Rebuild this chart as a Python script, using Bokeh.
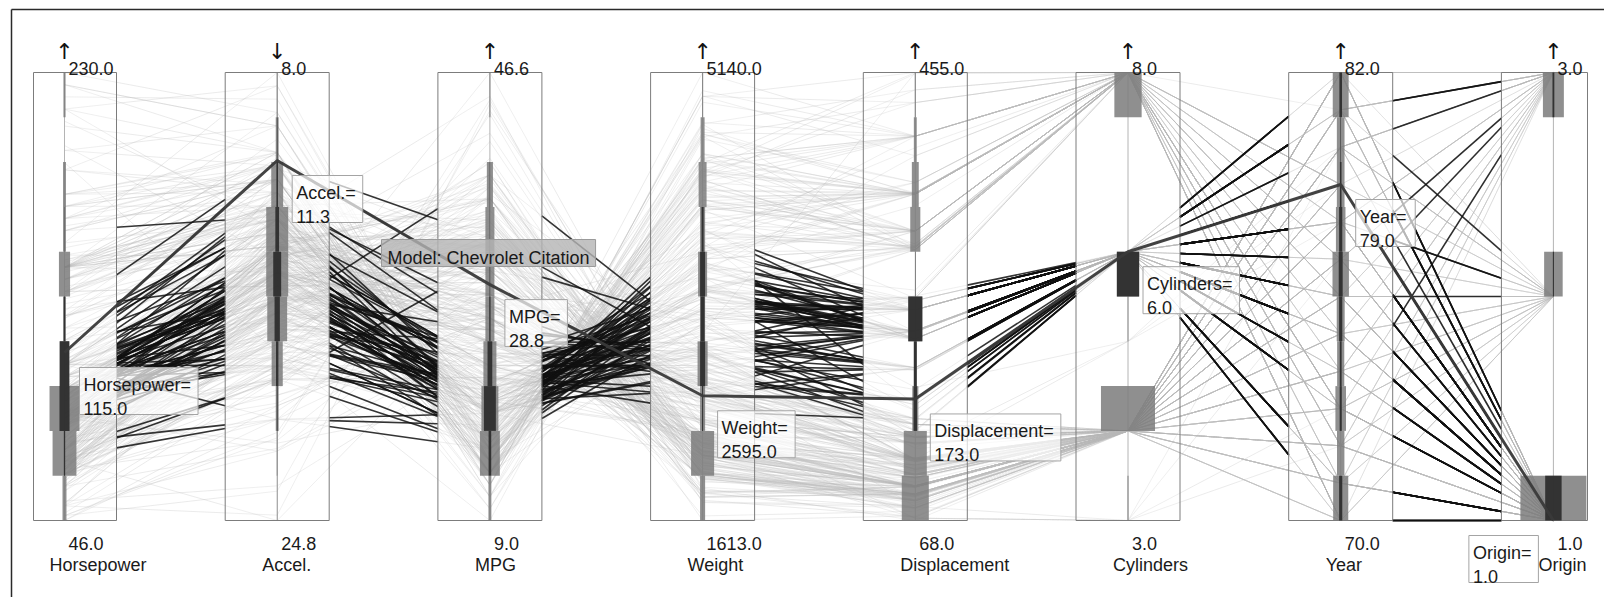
import numpy as np
from bokeh.plotting import figure
from bokeh.models import Range1d
from bokeh.embed import file_html
from bokeh.resources import INLINE
from bokeh.core.properties import value

# ---------------- data (auto-mpg cars, one line per model year) ----------------
horsepower = [
    130,165,150,150,140,198,220,215,225,190,170,160,150,225,95,95,97,85,88,46,87,90,95,113,90,215,200,210,193,
    88,90,95,100,105,100,88,100,165,175,153,150,180,170,175,110,72,100,88,86,90,70,76,65,69,60,70,
    95,80,54,90,86,165,175,150,153,150,208,155,160,190,97,150,130,140,150,112,76,87,69,86,92,97,80,88,
    175,150,145,137,150,198,150,158,150,215,225,175,105,100,100,88,95,46,150,167,170,180,100,88,72,94,90,85,107,90,145,230,49,75,91,112,150,110,122,180,
    95,100,100,67,80,65,75,100,110,105,140,150,150,140,150,83,67,78,52,61,75,75,75,97,93,67,
    95,105,72,72,170,145,150,148,110,105,110,95,110,110,129,75,83,100,78,96,71,97,97,70,90,95,88,98,115,53,
    86,81,92,79,83,140,150,120,152,100,105,81,90,52,60,70,53,100,78,110,95,71,70,75,72,102,150,88,108,120,180,145,130,150,
    68,80,58,96,70,145,110,145,130,110,105,100,98,180,170,190,149,78,88,75,89,63,83,67,78,97,110,110,
    48,66,52,70,60,110,140,139,105,95,85,88,100,90,105,85,110,120,145,165,139,140,68,95,97,75,95,105,85,97,103,125,115,133,71,68,
    115,85,88,90,110,130,129,138,135,155,142,125,150,71,65,80,80,77,125,71,90,70,70,65,69,90,115,115,90,
    76,60,70,65,90,88,90,90,78,90,75,92,75,65,105,65,48,48,67,67,67,67,62,132,100,88,72,
    84,84,92,110,84,58,64,60,67,65,62,68,63,65,65,74,75,75,100,74,80,76,116,120,110,105,88,85,
    88,88,88,85,84,90,92,74,68,68,63,70,88,75,70,67,67,67,110,85,92,112,96,84,90,86,52,84,79,82,
]
acceleration = [
    12.0,11.5,11.0,12.0,10.5,10.0,9.0,8.5,10.0,8.5,10.0,8.0,9.5,10.0,15.0,15.5,15.5,16.0,14.5,20.5,17.5,14.5,17.5,12.5,15.0,14.0,15.0,13.5,18.5,
    14.5,15.5,14.0,13.0,15.5,15.5,15.5,15.5,12.0,11.5,13.5,13.0,11.5,12.0,12.0,13.5,19.0,15.0,14.5,14.0,14.0,19.5,14.5,19.0,18.0,19.0,20.5,
    15.5,17.0,23.5,19.5,16.5,12.0,12.0,13.5,13.0,11.5,11.0,13.5,13.5,12.5,13.5,12.5,14.0,16.0,14.0,14.5,18.0,19.5,18.0,16.0,17.0,14.5,15.0,16.5,
    13.0,11.5,13.0,14.5,12.5,11.5,12.0,13.0,14.5,11.0,11.0,11.0,16.5,18.0,16.0,16.5,16.0,21.0,14.0,12.5,13.0,12.5,15.0,19.0,19.5,16.5,13.5,18.5,14.0,15.5,13.0,9.5,19.5,15.5,14.0,15.5,11.0,14.0,13.5,11.0,
    16.5,16.0,17.0,19.0,16.5,21.0,17.0,17.0,18.0,16.5,14.0,14.5,13.5,16.0,15.5,16.5,15.5,14.5,16.5,19.0,14.5,15.5,14.0,15.0,15.5,16.0,
    16.0,16.0,21.0,19.5,11.5,14.0,14.5,13.5,21.0,18.5,19.0,19.0,15.0,13.5,12.0,16.0,17.0,16.0,18.5,13.5,16.5,17.0,14.5,14.0,17.0,15.0,17.0,14.5,13.5,17.5,
    15.5,16.9,14.9,17.7,15.3,13.0,13.0,13.9,12.8,15.4,14.5,17.6,17.6,22.2,22.1,14.2,17.4,17.7,21.0,16.2,17.8,12.2,17.0,16.4,13.6,15.7,13.2,21.9,15.5,16.7,12.1,12.0,15.0,14.0,
    18.5,14.8,18.6,15.5,16.8,12.5,19.0,13.7,14.9,16.4,16.9,17.7,19.0,11.1,11.4,12.2,14.5,14.5,16.0,18.2,15.8,17.0,15.9,16.4,14.1,14.5,12.8,13.5,
    21.5,14.4,19.4,18.6,16.4,15.5,13.2,12.8,19.2,18.2,15.8,15.4,17.2,17.2,15.8,16.7,18.7,15.1,13.2,13.4,11.2,13.7,16.5,14.2,14.7,14.5,14.8,16.7,17.6,14.9,15.9,13.6,15.7,15.8,14.9,16.6,
    15.4,18.2,17.3,18.2,16.6,15.4,13.4,13.2,15.2,14.9,14.3,15.0,13.0,14.0,15.2,14.4,15.0,20.1,17.4,24.8,22.2,13.2,14.9,19.2,14.7,16.0,11.3,12.9,13.2,
    14.7,18.8,15.5,16.4,16.5,18.1,20.1,18.7,15.8,15.5,17.5,15.0,15.2,17.9,14.4,19.2,21.7,23.7,19.9,21.8,13.8,18.0,15.3,11.4,12.5,15.1,17.0,
    15.7,16.4,14.4,12.6,12.9,16.9,16.4,16.1,17.8,19.4,17.3,16.0,14.9,16.2,20.7,14.2,14.4,16.8,14.8,18.3,20.4,19.6,12.6,13.8,15.8,19.0,17.1,16.6,
    19.6,18.6,18.0,16.2,16.0,18.0,16.4,15.3,18.2,17.6,14.7,17.3,14.5,14.5,16.9,15.0,15.7,16.2,16.4,17.0,14.5,14.7,13.9,13.0,17.3,15.6,24.6,11.6,18.6,19.4,
]
mpg = [
    18,15,18,16,17,15,14,14,14,15,15,14,15,14,24,22,18,21,27,26,25,24,25,26,21,10,10,11,9,
    27,28,25,19,16,17,19,18,14,14,14,14,12,13,13,18,22,19,18,23,28,30,30,31,35,27,26,
    24,25,23,20,21,13,14,15,14,17,11,13,12,13,19,15,13,13,14,18,22,21,26,22,28,23,28,27,
    13,14,13,14,15,12,13,13,14,13,12,13,18,16,18,18,23,26,11,12,13,12,18,20,21,22,18,19,21,26,15,16,29,24,20,19,15,24,20,11,
    20,19,15,31,26,32,25,16,16,18,16,13,14,14,14,29,26,26,31,32,28,24,26,24,26,31,
    19,18,15,15,16,15,16,14,17,16,15,18,21,20,13,29,23,20,23,24,25,24,18,29,19,23,23,22,25,33,
    28,25,25,26,27,17.5,16,15.5,14.5,22,22,24,22.5,29,24.5,29,33,20,18,18.5,17.5,29.5,32,28,26.5,20,13,19,19,16.5,16.5,13,13,13,
    31.5,30,36,25.5,33.5,17.5,17,15.5,15,17.5,20.5,19,18.5,16,15.5,15.5,16,29,24.5,26,25.5,30.5,33.5,30,30.5,22,21.5,21.5,
    43.1,36.1,32.8,39.4,36.1,19.9,19.4,20.2,19.2,20.5,20.2,25.1,20.5,19.4,20.6,20.8,18.6,18.1,19.2,17.7,18.1,17.5,30,27.5,27.2,30.9,21.1,23.2,23.8,23.9,20.3,17,21.6,16.2,31.5,29.5,
    21.5,19.8,22.3,20.2,20.6,17,17.6,16.5,18.2,16.9,15.5,19.2,18.5,31.9,34.1,35.7,27.4,25.4,23,27.2,23.9,34.2,34.5,31.8,37.3,28.4,28.8,26.8,33.5,
    41.5,38.1,32.1,37.2,28,26.4,24.3,19.1,34.3,29.8,31.3,37,32.2,46.6,27.9,40.8,44.3,43.4,36.4,30,44.6,33.8,29.8,32.7,23.7,35,32.4,
    27.2,26.6,25.8,23.5,30,39.1,39,35.1,32.3,37,37.7,34.1,34.7,34.4,29.9,33,33.7,32.4,32.9,31.6,28.1,30.7,25.4,24.2,22.4,26.6,20.2,17.6,
    28,27,34,31,29,27,24,36,37,31,38,36,36,36,34,38,32,38,25,38,26,22,32,36,27,27,44,32,28,31,
]
weight = [
    3504,3693,3436,3433,3449,4341,4354,4312,4425,3850,3563,3609,3761,3086,2372,2833,2774,2587,2130,1835,2672,2430,2375,2234,2648,4615,4376,4382,4732,
    2130,2264,2228,2634,3439,3329,3302,3288,4209,4464,4154,4096,4955,4746,5140,2962,2408,3282,3139,2220,2123,2074,2065,1773,1613,1834,1955,
    2278,2126,2254,2408,2226,4274,4385,4135,4129,3672,4633,4502,4456,4422,2330,3892,4098,4294,4077,2933,2511,2979,2189,2395,2288,2506,2164,2100,
    4100,3672,3988,4042,3777,4952,4464,4363,4237,4735,4951,3821,3121,3278,2945,3021,2904,1950,4997,4906,4654,4499,2789,2279,2401,2379,2124,2310,2472,2265,4082,4278,1867,2158,2582,2868,3399,2660,2807,3664,
    3102,2901,3336,1950,2451,1836,2542,3781,3632,3613,4141,4699,4457,4638,4257,2219,1963,2300,1649,2003,2125,2108,2246,2489,2391,2000,
    3264,3459,3432,3158,4668,4440,4498,4657,3907,3897,3730,3785,3039,3221,3169,2171,2639,2914,2592,2702,2223,2545,2984,1937,3211,2694,2957,2945,2671,1795,
    2464,2220,2572,2255,2202,4215,4190,3962,4215,3233,3353,3012,3085,2035,2164,1937,1795,3651,3574,3645,3193,1825,1990,2155,2565,3150,3940,3270,2930,3820,4380,4055,3870,3755,
    2045,2155,1825,2300,1945,3880,4060,4140,4295,3520,3425,3630,3525,4220,4165,4325,4335,1940,2740,2265,2755,2051,2075,1985,2190,2815,2600,2720,
    1985,1800,1985,2070,1800,3365,3735,3570,3535,3155,2965,2720,3430,3210,3380,3070,3620,3410,3425,3445,3205,4080,2155,2560,2300,2230,2515,2745,2855,2405,2830,3140,2795,3410,1990,2135,
    3245,2990,2890,3265,3360,3840,3725,3955,3830,4360,4054,3605,3940,1925,1975,1915,2670,3530,3900,3190,3420,2200,2150,2020,2130,2670,2595,2700,2556,
    2144,1968,2120,2019,2678,2870,3003,3381,2188,2711,2542,2434,2265,2110,2800,2110,2085,2335,2950,3250,1850,2145,1845,2910,2420,2500,2290,
    2490,2635,2620,2725,2385,1755,1875,1760,2065,1975,2050,1985,2215,2045,2380,2190,2210,2350,2615,2635,3230,3160,2900,2930,3415,3725,3060,3465,
    2605,2640,2395,2575,2525,2735,2865,1980,2025,1970,2125,2125,2160,2205,2245,1965,1965,1995,2945,3015,2585,2835,2665,2370,2950,2790,2130,2295,2625,2720,
]
displacement = [
    307,350,318,304,302,429,454,440,455,390,383,340,400,455,113,198,199,200,97,97,110,107,104,121,199,360,307,318,304,
    97,140,113,232,225,250,250,232,350,400,351,318,383,400,400,258,140,250,250,122,116,79,88,71,72,97,91,
    113,97.5,97,140,122,350,400,318,351,304,429,350,350,400,70,304,307,302,318,121,121,120,96,122,97,120,98,97,
    350,304,350,302,318,429,400,351,318,440,455,360,225,250,232,250,198,97,400,400,360,350,232,97,140,108,70,122,155,98,350,400,68,116,114,121,318,121,156,350,
    198,232,250,79,122,71,140,250,258,225,302,350,318,302,304,98,79,97,76,83,90,90,116,120,108,79,
    225,250,250,250,400,350,318,351,231,250,258,225,231,262,302,97,140,232,140,134,90,119,171,90,232,115,120,121,121,91,
    107,116,140,98,101,305,318,304,351,225,250,200,232,85,98,90,91,225,250,250,258,97,85,97,140,130,318,120,156,168,350,350,302,318,
    98,111,79,122,85,305,260,318,302,250,231,225,250,400,350,400,351,97,151,97,140,98,98,97,97,146,121,80,
    90,98,78,85,91,260,318,302,231,200,200,140,225,232,231,200,225,258,305,231,302,318,98,134,119,105,134,156,151,119,131,163,121,163,89,98,
    231,200,140,232,225,305,302,351,318,350,351,267,360,89,86,98,121,183,350,141,260,105,105,85,91,151,173,173,151,
    98,89,98,86,151,140,151,225,97,134,120,119,108,86,156,85,90,90,121,146,91,97,89,168,70,122,107,
    135,151,156,173,135,79,86,81,97,85,89,91,105,98,98,105,107,108,119,120,141,145,168,146,231,350,200,225,
    112,112,112,112,135,151,140,105,91,91,105,98,120,107,108,91,91,91,181,262,156,232,144,135,151,140,97,135,120,119,
]
cylinders = [
    8,8,8,8,8,8,8,8,8,8,8,8,8,8,4,6,6,6,4,4,4,4,4,4,6,8,8,8,8,
    4,4,4,6,6,6,6,6,8,8,8,8,8,8,8,6,4,6,6,4,4,4,4,4,4,4,4,
    4,4,4,4,4,8,8,8,8,8,8,8,8,8,3,8,8,8,8,4,4,4,4,4,4,4,4,4,
    8,8,8,8,8,8,8,8,8,8,8,8,6,6,6,6,6,4,8,8,8,8,6,4,4,4,3,4,6,4,8,8,4,4,4,4,8,4,6,8,
    6,6,6,4,4,4,4,6,6,6,8,8,8,8,8,4,4,4,4,4,4,4,4,4,4,4,
    6,6,6,6,8,8,8,8,6,6,6,6,6,8,8,4,4,6,4,4,4,4,6,4,6,4,4,4,4,4,
    4,4,4,4,4,8,8,8,8,6,6,6,6,4,4,4,4,6,6,6,6,4,4,4,4,4,8,4,6,6,8,8,8,8,
    4,4,4,4,4,8,8,8,8,6,6,6,6,8,8,8,8,4,4,4,4,4,4,4,4,6,4,3,
    4,4,4,4,4,8,8,8,6,6,6,4,6,6,6,6,6,6,8,6,8,8,4,4,4,4,4,4,4,4,5,6,4,6,4,4,
    6,6,4,6,6,8,8,8,8,8,8,8,8,4,4,4,4,5,8,4,8,4,4,4,4,4,6,6,4,
    4,4,4,4,4,4,4,6,4,4,4,4,4,4,4,4,4,4,5,4,4,4,4,6,3,4,4,
    4,4,4,6,4,4,4,4,4,4,4,4,4,4,4,4,4,4,4,4,4,6,6,6,6,8,6,6,
    4,4,4,4,4,4,4,4,4,4,4,4,4,4,4,4,4,4,6,6,4,6,4,4,4,4,4,4,4,4,
]
model_year = [
    70,70,70,70,70,70,70,70,70,70, 70,70,70,70,70,70,70,70,70,70, 70,70,70,70,70,70,70,70,70,
    71,71,71,71,71,71,71,71,71,71, 71,71,71,71,71,71,71,71,71,71, 71,71,71,71,71,71,71,
    72,72,72,72,72,72,72,72,72,72, 72,72,72,72,72,72,72,72,72,72, 72,72,72,72,72,72,72,72,
    73,73,73,73,73,73,73,73,73,73, 73,73,73,73,73,73,73,73,73,73, 73,73,73,73,73,73,73,73,73,73, 73,73,73,73,73,73,73,73,73,73,
    74,74,74,74,74,74,74,74,74,74, 74,74,74,74,74,74,74,74,74,74, 74,74,74,74,74,74,
    75,75,75,75,75,75,75,75,75,75, 75,75,75,75,75,75,75,75,75,75, 75,75,75,75,75,75,75,75,75,75,
    76,76,76,76,76,76,76,76,76,76, 76,76,76,76,76,76,76,76,76,76, 76,76,76,76,76,76,76,76,76,76, 76,76,76,76,
    77,77,77,77,77,77,77,77,77,77, 77,77,77,77,77,77,77,77,77,77, 77,77,77,77,77,77,77,77,
    78,78,78,78,78,78,78,78,78,78, 78,78,78,78,78,78,78,78,78,78, 78,78,78,78,78,78,78,78,78,78, 78,78,78,78,78,78,
    79,79,79,79,79,79,79,79,79,79, 79,79,79,79,79,79,79,79,79,79, 79,79,79,79,79,79,79,79,79,
    80,80,80,80,80,80,80,80,80,80, 80,80,80,80,80,80,80,80,80,80, 80,80,80,80,80,80,80,
    81,81,81,81,81,81,81,81,81,81, 81,81,81,81,81,81,81,81,81,81, 81,81,81,81,81,81,81,81,
    82,82,82,82,82,82,82,82,82,82, 82,82,82,82,82,82,82,82,82,82, 82,82,82,82,82,82,82,82,82,82,
]
origin = [
    1,1,1,1,1,1,1,1,1,1,1,1,1,1,3,1,1,1,3,2,2,2,2,2,1,1,1,1,1,
    3,1,3,1,1,1,1,1,1,1,1,1,1,1,1,1,1,1,1,1,2,2,2,3,3,2,1,
    3,1,2,1,1,1,1,1,1,1,1,1,1,1,3,1,1,1,1,2,2,2,2,1,3,3,1,3,
    1,1,1,1,1,1,1,1,1,1,1,1,1,1,1,1,1,2,1,1,1,1,1,3,1,3,3,1,1,2,1,1,2,2,2,2,1,2,3,1,
    1,1,1,3,1,3,1,1,1,1,1,1,1,1,1,2,2,2,3,3,1,2,2,3,3,2,
    1,1,1,1,1,1,1,1,1,1,1,1,1,1,1,3,1,1,1,3,2,3,1,2,1,2,2,2,2,3,
    2,2,1,1,2,1,1,1,1,1,1,1,1,1,1,2,3,1,1,1,1,2,3,3,1,2,1,2,3,2,1,1,1,1,
    3,1,2,1,3,1,1,1,1,1,1,1,1,1,1,1,1,2,1,3,1,1,1,3,2,3,2,3,
    2,1,3,3,3,1,1,1,1,1,1,1,1,1,1,1,1,1,1,1,1,1,1,3,3,1,3,1,1,3,2,2,2,2,2,3,
    1,1,1,1,1,1,1,1,1,1,1,1,1,2,3,1,1,2,1,2,1,1,1,3,2,1,1,1,1,
    2,3,1,3,1,1,1,1,2,3,3,3,3,3,1,3,2,2,2,2,3,3,2,3,3,2,3,
    1,1,1,1,1,3,1,3,3,3,3,3,1,1,1,2,3,3,3,3,2,2,3,3,1,1,1,1,
    1,1,1,1,1,1,1,2,3,3,1,1,3,3,3,3,3,3,1,1,1,1,3,1,1,1,2,1,1,1,
]

axis_names = ["Horsepower", "Accel.", "MPG", "Weight", "Displacement", "Cylinders", "Year", "Origin"]
axis_min = [46.0, 8.0, 9.0, 1613.0, 68.0, 3.0, 70.0, 1.0]
axis_max = [230.0, 24.8, 46.6, 5140.0, 455.0, 8.0, 82.0, 3.0]
axis_inverted = [False, True, False, False, False, False, False, False]

# histogram bar counts, 10 bins per axis in value order (low -> high)
hist_horsepower = [15, 90, 113, 38, 11, 42, 11, 11, 0, 8]
hist_accel = [4, 11, 45, 83, 83, 75, 42, 11, 4, 2]
hist_mpg = [11, 75, 64, 49, 34, 34, 34, 23, 0, 4]
hist_weight = [19, 87, 19, 38, 19, 34, 19, 30, 15, 4]
hist_displacement = [102, 87, 23, 11, 53, 2, 38, 26, 11, 4]
hist_cylinders = [4, 0, 204, 0, 3, 84, 0, 0, 0, 103]
hist_year = [57, 28, 40, 27, 30, 62, 36, 29, 29, 60]
hist_origin = [249, 0, 0, 0, 0, 70, 0, 0, 0, 79]
# same for the selected subset (6 cylinders)
sel_horsepower = [0, 5, 38, 35, 5, 0, 1, 0, 0, 0]
sel_accel = [0, 2, 6, 14, 30, 20, 9, 3, 0, 0]
sel_mpg = [0, 10, 45, 18, 5, 2, 1, 1, 0, 0]
sel_weight = [0, 0, 4, 19, 15, 19, 8, 0, 0, 0]
sel_displacement = [0, 0, 13, 11, 53, 1, 0, 0, 0, 0]
sel_cylinders = [0, 0, 0, 0, 0, 84, 0, 0, 0, 0]
sel_year = [12, 0, 8, 7, 12, 15, 12, 6, 2, 10]
sel_origin = [62, 0, 0, 0, 0, 4, 0, 0, 0, 7]

selected_cylinders = 6
highlight_model = "Chevrolet Citation"
highlight_mpg, highlight_weight = 28.8, 2595

# ---------------- layout ----------------
FONT = "Liberation Sans"
W_PX, H_PX = 1604, 597
TOP, BOT = 72.0, 520.0
H = BOT - TOP
AX0, STEP = 64.0, 212.7
N_AX = 8
ax = [AX0 + i * STEP for i in range(N_AX)]
HALF = 52.0
bl = [max(x - HALF, 33.0) for x in ax]
br = [min(x + HALF, 1587.0) for x in ax]
PX_PER_CAR = 0.265

cols = [horsepower, acceleration, mpg, weight, displacement, cylinders, model_year, origin]
lens = [len(c) for c in cols]
assert len(set(lens)) == 1, lens
n = lens[0]
D = np.array(cols, dtype=float).T


def ypos(i, v):
    t = (np.asarray(v, dtype=float) - axis_min[i]) / (axis_max[i] - axis_min[i])
    return TOP + t * H if axis_inverted[i] else BOT - t * H


Y = np.column_stack([ypos(i, D[:, i]) for i in range(N_AX)])
sel = D[:, 5] == selected_cylinders
cit = int(np.where((D[:, 2] == highlight_mpg) & (D[:, 3] == highlight_weight))[0][0])

yR, yL = [], []
for g in range(N_AX - 1):
    dx = ax[g + 1] - ax[g]
    yR.append(Y[:, g] + (Y[:, g + 1] - Y[:, g]) * (br[g] - ax[g]) / dx)
    yL.append(Y[:, g] + (Y[:, g + 1] - Y[:, g]) * (bl[g + 1] - ax[g]) / dx)

p = figure(width=W_PX, height=H_PX, x_range=Range1d(0, W_PX), y_range=Range1d(H_PX, 0),
           output_backend="svg", toolbar_location=None, min_border=0,
           x_axis_type=None, y_axis_type=None)
p.outline_line_color = None
p.background_fill_color = "white"
p.border_fill_color = "white"

# axis centre lines
p.segment(x0=ax, y0=[TOP] * N_AX, x1=ax, y1=[BOT] * N_AX, line_color="#b4b4b4", line_width=1)

# faded parts of every polyline inside the axis boxes
in_xs, in_ys = [], []
for i in range(N_AX):
    for k in range(n):
        xs, ys = [ax[i]], [float(Y[k, i])]
        if i > 0:
            xs.insert(0, bl[i]); ys.insert(0, float(yL[i - 1][k]))
        if i < N_AX - 1:
            xs.append(br[i]); ys.append(float(yR[i][k]))
        in_xs.append(xs); in_ys.append(ys)
p.multi_line(in_xs, in_ys, line_color="#b8b8b8", line_alpha=0.22, line_width=1)

# parts between the boxes
u_xs, u_ys, s_xs, s_ys = [], [], [], []
for g in range(N_AX - 1):
    for k in range(n):
        xs = [br[g], bl[g + 1]]
        ys = [float(yR[g][k]), float(yL[g][k])]
        if sel[k]:
            s_xs.append(xs); s_ys.append(ys)
        else:
            u_xs.append(xs); u_ys.append(ys)
p.multi_line(u_xs, u_ys, line_color="#bdbdbd", line_alpha=0.3, line_width=1)
p.multi_line(s_xs, s_ys, line_color="#111111", line_alpha=0.85, line_width=1.6)

# box outlines
p.quad(left=bl, right=br, top=[TOP] * N_AX, bottom=[BOT] * N_AX,
       fill_color=None, line_color="#7c7c7c", line_width=1)

# histograms
hist_all = [hist_horsepower, hist_accel, hist_mpg, hist_weight, hist_displacement,
            hist_cylinders, hist_year, hist_origin]
hist_sel = [sel_horsepower, sel_accel, sel_mpg, sel_weight, sel_displacement,
            sel_cylinders, sel_year, sel_origin]
for counts_list, color, alpha in ((hist_all, "#7b7b7b", 0.85), (hist_sel, "#2b2b2b", 0.92)):
    L, R, T, B = [], [], [], []
    for i in range(N_AX):
        w = (axis_max[i] - axis_min[i]) / 10.0
        ye = ypos(i, [axis_min[i] + k * w for k in range(11)])
        for k, c in enumerate(counts_list[i]):
            if c <= 0:
                continue
            half = c * PX_PER_CAR / 2.0
            L.append(ax[i] - half); R.append(ax[i] + half)
            T.append(float(min(ye[k], ye[k + 1]))); B.append(float(max(ye[k], ye[k + 1])))
    p.quad(left=L, right=R, top=T, bottom=B, fill_color=color, fill_alpha=alpha, line_color=None)

# highlighted car
p.line(ax, [float(v) for v in Y[cit]], line_color="#3a3a3a", line_width=3, line_alpha=0.95)

CHAR_W = {'.': .278, '=': .584, ':': .278, ' ': .278, 'A': .667, 'C': .722, 'D': .722, 'G': .778,
          'H': .722, 'M': .833, 'O': .778, 'P': .667, 'W': .944, 'Y': .667, 'a': .556, 'c': .5,
          'd': .556, 'e': .556, 'g': .556, 'h': .556, 'i': .222, 'l': .222, 'm': .833, 'n': .556,
          'o': .556, 'p': .556, 'r': .333, 's': .5, 't': .278, 'v': .5, 'w': .722, 'y': .5}


def text_w(s, size=18):
    return sum(CHAR_W.get(ch, 0.556) for ch in s) * size


def txt(x, y, s, size="18px", align="left", font=FONT, color="#1a1a1a", style="normal"):
    p.text(x=x, y=y, text=s, text_font=value(font), text_font_size=size, text_font_style=style,
           text_align=align, text_baseline="alphabetic", text_color=color)


# value call-outs of the highlighted car
for i in range(N_AX):
    l1 = axis_names[i] + "="
    l2 = f"{D[cit, i]:.1f}"
    wbox = max(text_w(l1), text_w(l2)) + 11
    top = float(Y[cit, i]) + 15
    if i < N_AX - 1:
        left = ax[i] + 15
    else:
        left = ax[i] - 15 - wbox
    p.quad(left=[left], right=[left + wbox], top=[top], bottom=[top + 47],
           fill_color="white", fill_alpha=0.7, line_color="#a4a4a4", line_width=1)
    txt([left + 4, left + 4], [top + 17.5, top + 41], [l1, l2])

# model label
mtext = "Model: " + highlight_model
mx, my = 381.0, 239.0
p.quad(left=[mx], right=[mx + text_w(mtext) + 12], top=[my], bottom=[my + 27],
       fill_color="#b4b4b4", fill_alpha=0.8, line_color="#9a9a9a", line_width=1)
txt([mx + 6], [my + 18], [mtext])

# axis texts
top_vals = [axis_min[i] if axis_inverted[i] else axis_max[i] for i in range(N_AX)]
bot_vals = [axis_max[i] if axis_inverted[i] else axis_min[i] for i in range(N_AX)]
txt(ax, [51] * N_AX, ["\u2193" if inv else "\u2191" for inv in axis_inverted],
    size="22px", align="center", font="DejaVu Sans", color="#111111")
txt([x + 4 for x in ax], [68] * N_AX, [f"{v:.1f}" for v in top_vals])
txt([x + 4 for x in ax], [542.5] * N_AX, [f"{v:.1f}" for v in bot_vals])
txt([x - 15 for x in ax], [564] * N_AX, axis_names)

# frame (top and left edges)
p.segment(x0=[11, 11], y0=[9, 9], x1=[11, W_PX], y1=[H_PX, 9], line_color="#2a2a2a", line_width=1.5)

open("out.html", "w").write(file_html(p, INLINE))
